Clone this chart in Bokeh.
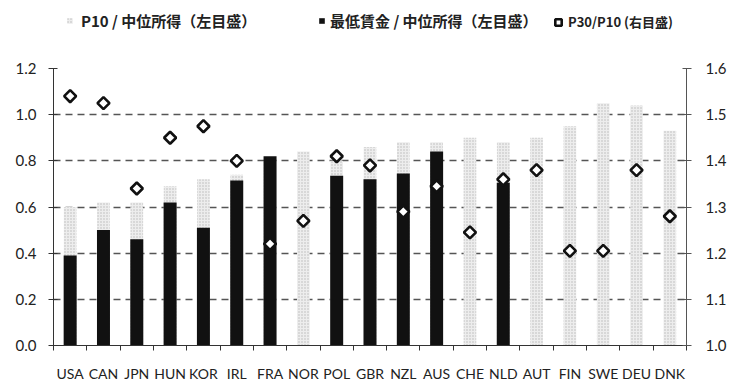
import numpy as np
from bokeh.plotting import figure
from bokeh.layouts import column
from bokeh.models import (Range1d, LinearAxis, FixedTicker, Legend, LegendItem,
                          CustomJSTickFormatter, PrintfTickFormatter)
from bokeh.embed import file_html
from bokeh.resources import INLINE

# ---- data ----
countries = ["USA", "CAN", "JPN", "HUN", "KOR", "IRL", "FRA", "NOR", "POL", "GBR",
             "NZL", "AUS", "CHE", "NLD", "AUT", "FIN", "SWE", "DEU", "DNK"]
p10_median = [0.60, 0.62, 0.62, 0.69, 0.72, 0.74, 0.80, 0.84, 0.80, 0.86,
              0.88, 0.88, 0.90, 0.88, 0.90, 0.95, 1.05, 1.04, 0.93]
minwage_median = [0.39, 0.50, 0.46, 0.62, 0.51, 0.715, 0.82, None, 0.735, 0.72,
                  0.745, 0.84, None, 0.705, None, None, None, None, None]
p30_p10 = [1.54, 1.525, 1.34, 1.45, 1.475, 1.40, 1.22, 1.27, 1.41, 1.39,
           1.29, 1.345, 1.245, 1.36, 1.38, 1.205, 1.205, 1.38, 1.28]
left_ticks = [0.0, 0.2, 0.4, 0.6, 0.8, 1.0, 1.2]
right_ticks = [1.0, 1.1, 1.2, 1.3, 1.4, 1.5, 1.6]
legend_labels = ["P10 / 中位所得（左目盛）", "最低賃金 / 中位所得（左目盛）", "P30/P10 (右目盛)"]

n = len(countries)
idx = list(range(n))
mw_x = [i for i, v in zip(idx, minwage_median) if v is not None]
mw_v = [v for v in minwage_median if v is not None]

GRAY = dict(fill_color="#ededed", line_color=None, hatch_pattern="dot",
            hatch_color="#b8b8b8", hatch_scale=3, hatch_weight=1)
BLACK = dict(fill_color="#111111", line_color=None)
DIAM = dict(marker="square", angle=np.pi / 4, fill_color="white",
            line_color="#111111", line_width=2.6)

# ---- main chart ----
p = figure(width=734, height=344, output_backend="svg", toolbar_location=None,
           x_range=Range1d(-0.5, n - 0.5), y_range=Range1d(0, 1.2),
           min_border_left=53, min_border_right=48, min_border_top=28, min_border_bottom=36)
p.outline_line_color = None
p.background_fill_color = "white"
p.border_fill_color = "white"
p.extra_y_ranges = {"r": Range1d(1.0, 1.6)}

LBL_FONT = "Lato"

p.xaxis.ticker = FixedTicker(ticks=idx, minor_ticks=[i - 0.5 for i in range(n + 1)])
p.xaxis.formatter = CustomJSTickFormatter(args=dict(labels=countries),
                                          code="const i = Math.round(tick); return labels[i] || '';")
p.xaxis.major_tick_in = 0
p.xaxis.major_tick_out = 0
p.xaxis.minor_tick_in = 0
p.xaxis.minor_tick_out = 5
p.xaxis.minor_tick_line_color = "#333333"
p.xaxis.axis_line_color = "#333333"
p.xaxis.major_label_text_font = LBL_FONT
p.xaxis.major_label_text_font_size = "14px"
p.xaxis.major_label_text_color = "#222222"
p.xaxis.major_label_standoff = 14

p.yaxis.ticker = FixedTicker(ticks=left_ticks)
p.yaxis.formatter = PrintfTickFormatter(format="%.1f")
p.yaxis.major_tick_in = 4
p.yaxis.major_tick_out = 5
p.yaxis.minor_tick_line_color = None
p.yaxis.axis_line_color = "#333333"
p.yaxis.major_tick_line_color = "#333333"
p.yaxis.major_label_text_font = LBL_FONT
p.yaxis.major_label_text_font_size = "15px"
p.yaxis.major_label_text_color = "#222222"
p.yaxis.major_label_standoff = 12

ra = LinearAxis(y_range_name="r", ticker=FixedTicker(ticks=right_ticks),
                formatter=PrintfTickFormatter(format="%.1f"))
ra.major_tick_in = 4
ra.major_tick_out = 5
ra.minor_tick_line_color = None
ra.axis_line_color = "#555555"
ra.major_tick_line_color = "#555555"
ra.major_label_text_font = LBL_FONT
ra.major_label_text_font_size = "15px"
ra.major_label_text_color = "#222222"
ra.major_label_standoff = 14
p.add_layout(ra, "right")

p.xgrid.visible = False
p.ygrid.ticker = FixedTicker(ticks=left_ticks[1:])
p.ygrid.grid_line_color = "#555555"
p.ygrid.grid_line_width = 1.6
p.ygrid.grid_line_dash = "7 5"

p.vbar(x=idx, top=p10_median, width=0.38, **GRAY)
p.vbar(x=mw_x, top=mw_v, width=0.39, **BLACK)
p.scatter(x=idx, y=p30_p10, y_range_name="r", size=8.5, **DIAM)

# ---- legend strip (its frame is aligned with the chart frame below) ----
lg = figure(width=734, height=40, output_backend="svg", toolbar_location=None,
            x_axis_location=None, y_axis_location=None,
            x_range=Range1d(0, 1), y_range=Range1d(5, 6), min_border=0)
lg.grid.visible = False
lg.outline_line_color = None
lg.background_fill_color = "white"
lg.border_fill_color = "white"
# same series, outside this strip's visible range: only their legend keys show
r_gray = lg.vbar(x=idx, top=p10_median, width=0.38, **GRAY)
r_black = lg.vbar(x=mw_x, top=mw_v, width=0.39, **BLACK)
r_dia = lg.scatter(x=idx, y=p30_p10, size=8.5, **DIAM)


def make_legend(label, r, loc, gw, gh, standoff, size, style):
    leg = Legend(items=[LegendItem(label=label, renderers=[r])], location=loc,
                 orientation="horizontal", padding=0, margin=0, spacing=0,
                 glyph_width=gw, glyph_height=gh, label_standoff=standoff,
                 label_height=16, border_line_color=None, background_fill_alpha=0,
                 label_text_font="Noto Sans CJK JP", label_text_font_style=style,
                 label_text_font_size=size, label_text_color="#222222")
    lg.add_layout(leg)


make_legend(legend_labels[0], r_gray, (13, 9), 7, 7, 8, "15px", "bold")
make_legend(legend_labels[1], r_black, (265, 9), 7, 7, 5, "15px", "bold")
make_legend(legend_labels[2], r_dia, (497, 9), 16, 16, 2, "13px", "bold")

layout = column(lg, p, spacing=0)
open("out.html", "w").write(file_html(layout, INLINE))
